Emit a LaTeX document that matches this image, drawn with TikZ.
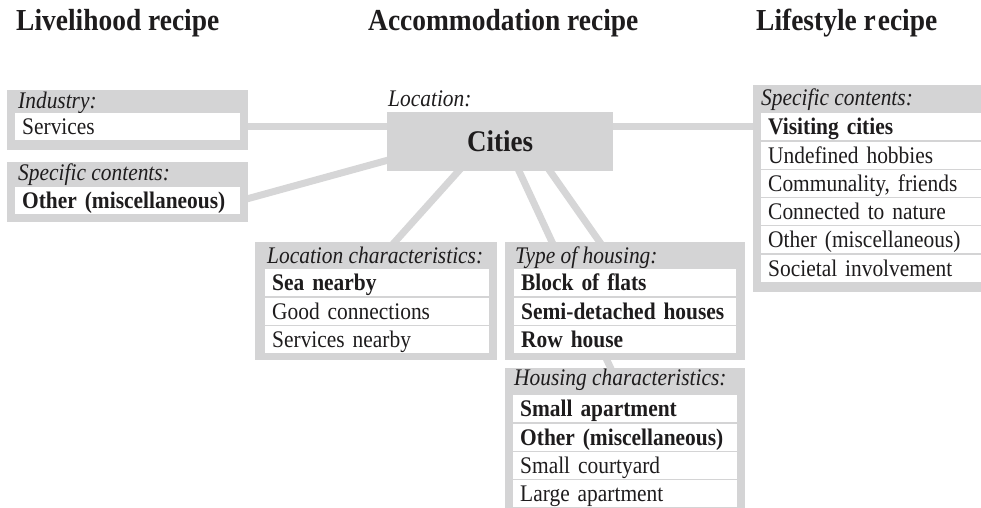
\documentclass[tikz,border=0pt]{standalone}
\usepackage{fontspec}
\setmainfont[FakeStretch=0.9]{Liberation Serif}
\usetikzlibrary{calc,backgrounds}
\definecolor{boxgray}{RGB}{212,212,213}
\definecolor{linegray}{RGB}{214,214,215}
\definecolor{ink}{RGB}{30,28,29}
\newcommand\rowfont{\fontsize{23.8}{26}\selectfont}
\newcommand\lblfont{\fontsize{23.8}{26}\selectfont\itshape}
\newcommand\ttlfont{\fontsize{30.5}{33}\selectfont\bfseries}
\tikzset{
  gbox/.style={fill=boxgray, draw=none, anchor=north west, inner sep=0pt},
  wrow/.style={fill=white, draw=none, anchor=north west, inner xsep=7pt, inner ysep=0pt,
    minimum height=27pt, text height=16pt, text depth=0pt, align=left, font=\rowfont, text=ink},
  lbl/.style={anchor=base west, inner sep=0pt, font=\lblfont, text=ink},
  ttl/.style={anchor=base west, inner sep=0pt, font=\ttlfont, text=ink},
  conn/.style={draw=linegray, line width=7pt, shorten <=-6pt, shorten >=-6pt},
}
\begin{document}
\begin{tikzpicture}[x=1pt,y=-1pt]
\useasboundingbox (0,0) rectangle (981,507);

% titles
\node[ttl] (t1) at (16,30) {Livelihood recipe};
\node[ttl] (t2) at (368,30) {Accommodation recipe};
\node[ttl] (t3) at (756,30) {Lifestyle r\kern2pt ecipe};

% Livelihood: industry
\node[gbox, minimum width=241pt, minimum height=60pt] (ind) at (7,90) {};
\node[lbl] (indl) at (18,108) {Industry:};
\node[wrow, text width=211pt] (ind1) at (15,113) {Services};

% Livelihood: specific contents
\node[gbox, minimum width=241pt, minimum height=60pt] (spec) at (7,162) {};
\node[lbl] (specl) at (18,180) {Specific contents:};
\node[wrow, text width=211pt] (spec1) at (15,187) {\bfseries Other (miscellaneous)};

% Cities
\node[lbl] (locl) at (388,106) {Location:};
\node[gbox, minimum width=226pt, minimum height=59pt, font=\fontsize{30}{33}\selectfont\bfseries, text=ink] (cities) at (387,112) {Cities};

% Location characteristics
\node[gbox, minimum width=242pt, minimum height=118pt] (loc) at (255,242) {};
\node[lbl] (locc) at (267,263) {Location characteristics:};
\node[wrow, text width=210pt] (loc1) at (265,269) {\bfseries Sea nearby};
\node[wrow, text width=210pt] (loc2) at (265,297.5) {Good connections};
\node[wrow, text width=210pt] (loc3) at (265,326) {Services nearby};

% Type of housing
\node[gbox, minimum width=240pt, minimum height=118pt] (type) at (505,242) {};
\node[lbl] (typel) at (515,263) {Type of housing:};
\node[wrow, text width=208pt] (type1) at (514,269) {\bfseries Block of flats};
\node[wrow, text width=208pt] (type2) at (514,297.5) {\bfseries Semi-detached houses};
\node[wrow, text width=208pt] (type3) at (514,326) {\bfseries Row house};

% Housing characteristics
\node[gbox, minimum width=240pt, minimum height=144pt] (house) at (505,368) {};
\node[lbl] (housel) at (514,385) {Housing characteristics:};
\node[wrow, text width=210pt] (house1) at (513,395) {\bfseries Small apartment};
\node[wrow, text width=210pt] (house2) at (513,423.3) {\bfseries Other (miscellaneous)};
\node[wrow, text width=210pt] (house3) at (513,451.6) {Small courtyard};
\node[wrow, text width=210pt] (house4) at (513,479.9) {Large apartment};

% Lifestyle
\node[gbox, minimum width=240pt, minimum height=207pt] (life) at (753,85) {};
\node[lbl] (lifel) at (761,105) {Specific contents:};
\node[wrow, text width=226pt] (life1) at (761,113) {\bfseries Visiting cities};
\node[wrow, text width=226pt] (life2) at (761,141.3) {Undefined hobbies};
\node[wrow, text width=226pt] (life3) at (761,169.6) {Communality, friends};
\node[wrow, text width=226pt] (life4) at (761,197.9) {Connected to nature};
\node[wrow, text width=226pt] (life5) at (761,226.2) {Other (miscellaneous)};
\node[wrow, text width=226pt] (life6) at (761,254.5) {Societal involvement};

% connectors
\begin{scope}[on background layer]
\draw[conn] (ind1.east) -- (cities.west |- ind1.east);
\draw[conn] (spec1.east) -- ($(cities.south west)+(0,-11)$);
\draw[conn] (cities.east |- ind1.east) -- (life.west |- ind1.east);
\draw[conn] ($(cities.south)+(-42,0)$) -- ($(loc.north)+(18.6,0)$);
\draw[conn] ($(cities.south)+(50,0)$) -- ($(type.north)+(-25.5,0)$);
\draw[conn] ($(cities.south)+(19,0)$) -- ($(house.north)+(-14.6,0)$);
\end{scope}
\end{tikzpicture}
\end{document}
